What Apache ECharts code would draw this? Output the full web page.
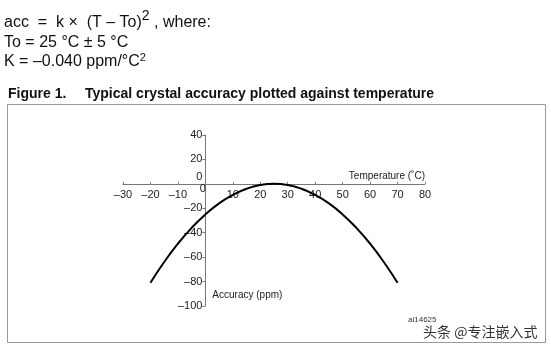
<!DOCTYPE html>
<html>
<head>
<meta charset="utf-8">
<script src="https://cdn.jsdelivr.net/npm/echarts@6/dist/echarts.min.js"></script>
<style>html,body{margin:0;padding:0;background:#fff}#c{width:551px;height:349px}</style>
</head>
<body>
<div id="c"></div>
<script>
// Temperature (°C) and read accuracy (ppm)
var temperature = [-20, -15, -10, -5, 0, 5, 10, 15, 20, 25, 30, 35, 40, 45, 50, 55, 60, 65, 70];
var accuracy =    [-81, -64, -49, -36, -25, -16, -9, -4, -1, 0, -1, -4, -9, -16, -25, -36, -49, -64, -81];
var xTicks = { min: -30, max: 80, interval: 10 };
var yTicks = { min: -100, max: 40, interval: 20 };

var FONT = '"Liberation Sans", Arial, sans-serif';
var G = { left: 123, top: 135, width: 302, height: 171 };
var chart = echarts.init(document.getElementById('c'), null, { renderer: 'canvas' });

function dash(v) { return String(v).replace('-', '\u2013'); }

var points = temperature.map(function (t, i) { return [t, accuracy[i]]; });
var lbl = { fontFamily: FONT, fontSize: 11, color: '#222' };

chart.setOption({
  animation: false,
  backgroundColor: '#fff',
  grid: { left: G.left, top: G.top, width: G.width, height: G.height, containLabel: false },
  xAxis: {
    type: 'value', min: xTicks.min, max: xTicks.max, interval: xTicks.interval,
    splitLine: { show: false },
    axisLine: { onZero: false, lineStyle: { color: '#777', width: 1 } },
    axisTick: { show: true, inside: true, length: 2, lineStyle: { color: '#777' } },
    axisLabel: {
      color: '#222', fontFamily: FONT, fontSize: 11, margin: 0,
      formatter: function (v) { return v === 0 ? '{z|0}' : '{n|' + dash(v) + '}'; },
      rich: {
        n: Object.assign({ padding: [6, 0, 0, 0] }, lbl),
        z: Object.assign({ padding: [0, 5, 0, 0] }, lbl)
      }
    },
    name: 'Temperature (\u02DAC)', nameLocation: 'end', nameGap: 0,
    nameTextStyle: { fontFamily: FONT, fontSize: 10, color: '#222', align: 'right', verticalAlign: 'bottom', padding: [0, 0, 3, 0] }
  },
  yAxis: {
    type: 'value', min: yTicks.min, max: yTicks.max, interval: yTicks.interval,
    splitLine: { show: false },
    axisLine: { onZero: false, lineStyle: { color: '#777', width: 1 } },
    axisTick: { show: true, length: 3, lineStyle: { color: '#777' } },
    axisLabel: {
      color: '#222', fontFamily: FONT, fontSize: 11, margin: 3,
      formatter: function (v) { return v === 0 ? '{z|0}' : dash(v); },
      rich: { z: Object.assign({ padding: [0, 0, 14, 0] }, lbl) }
    },
    name: 'Accuracy (ppm)', nameLocation: 'start', nameGap: -11,
    nameTextStyle: { fontFamily: FONT, fontSize: 10, color: '#222', align: 'left', verticalAlign: 'middle', padding: [0, 0, 0, 7] }
  },
  series: [{
    type: 'line', data: points, smooth: true, showSymbol: false,
    lineStyle: { color: '#000', width: 2 }
  }],
  graphic: [
    { type: 'rect', shape: { x: 7.5, y: 104.5, width: 538, height: 238 }, style: { fill: 'none', stroke: '#999', lineWidth: 1 }, silent: true },
    { type: 'text', left: 4, top: 9, style: {
        text: 'acc  =  k \u00D7  (T \u2013 To){s|2} , where:', fontFamily: FONT, fontSize: 16, fill: '#111',
        rich: { s: { fontFamily: FONT, fontSize: 14, fill: '#111', padding: [0, 0, 14, 0] } } } },
    { type: 'text', left: 4, top: 35, style: { text: 'To = 25 \u00B0C \u00B1 5 \u00B0C', fontFamily: FONT, fontSize: 16, fill: '#111' } },
    { type: 'text', left: 4, top: 52, style: {
        text: 'K = \u20130.040 ppm/\u00B0C{s|2}', fontFamily: FONT, fontSize: 16, fill: '#111',
        rich: { s: { fontFamily: FONT, fontSize: 11, fill: '#111', padding: [0, 0, 8, 0] } } } },
    { type: 'text', left: 8, top: 87, style: { text: 'Figure 1.', fontFamily: FONT, fontSize: 14, fontWeight: 'bold', fill: '#111' } },
    { type: 'text', left: 85, top: 87, style: { text: 'Typical crystal accuracy plotted against temperature', fontFamily: FONT, fontSize: 14, fontWeight: 'bold', fill: '#111' } },
    { type: 'text', left: 408, top: 316, style: { text: 'ai14625', fontFamily: FONT, fontSize: 8, fill: '#333' } },
    { type: 'text', left: 423, top: 325, style: { text: '\u5934\u6761 @\u4E13\u6CE8\u5D4C\u5165\u5F0F', fontFamily: '"Noto Sans CJK SC", sans-serif', fontSize: 14, fill: '#333' } }
  ]
});

// Move the axes so they cross at the data origin (0, 0), using the chart's own scales
var x0 = chart.convertToPixel({ xAxisIndex: 0 }, 0);
var y0 = chart.convertToPixel({ yAxisIndex: 0 }, 0);
chart.setOption({
  xAxis: { offset: -((G.top + G.height) - y0) },
  yAxis: { offset: -(x0 - G.left) }
});
</script>
</body>
</html>
